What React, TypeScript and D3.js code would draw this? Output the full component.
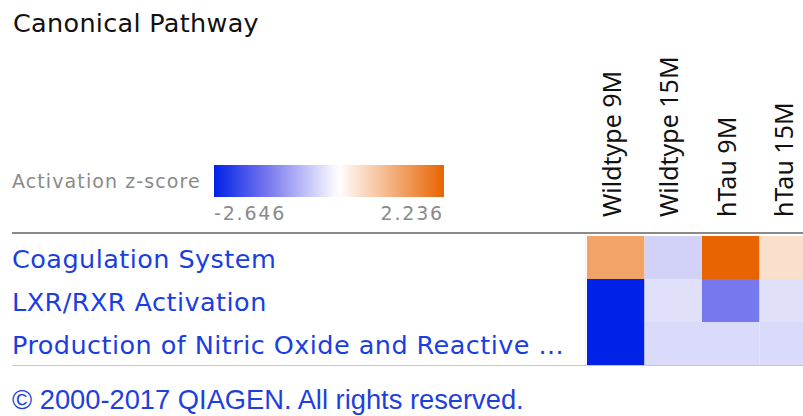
import React from "react";
import * as d3 from "d3";

const columns = ["Wildtype 9M", "Wildtype 15M", "hTau 9M", "hTau 15M"];
const pathways = [
  "Coagulation System",
  "LXR/RXR Activation",
  "Production of Nitric Oxide and Reactive ...",
];
const coagulation = [1.32, -0.5, 2.236, 0.45];
const lxrRxr = [-2.646, -0.34, -1.5, -0.34];
const nitricOxide = [-2.646, -0.41, -0.41, -0.41];
const zMin = -2.646;
const zMax = 2.236;
const legendTicks = ["-2.646", "2.236"];

const W = 803;
const H = 416;

export default function App() {
  const rows = [coagulation, lxrRxr, nitricOxide];
  const x = d3.scaleBand<string>().domain(columns).range([587, 817]).padding(0);
  const y = d3.scaleBand<string>().domain(pathways).range([236, 365]).padding(0);
  const color = d3
    .scaleLinear<string>()
    .domain([zMin, -1.5, 0, zMax])
    .range(["#0022e6", "#7878ee", "#ffffff", "#e86400"])
    .interpolate(d3.interpolateRgb);

  const lx = d3.scaleLinear().domain([zMin, zMax]).range([214, 444]);
  const stops = d3.range(0, 41).map((i) => {
    const t = i / 40;
    const v = zMin + t * (zMax - zMin);
    return { offset: t, c: color(v) };
  });

  return (
    <div style={{ position: "absolute", left: 0, top: 0 }}>
      <svg width={W} height={H} style={{ display: "block", background: "#fff" }}>
        <defs>
          <linearGradient id="zgrad" x1="0" x2="1" y1="0" y2="0">
            {stops.map((s, i) => (
              <stop key={i} offset={s.offset} stopColor={s.c} />
            ))}
          </linearGradient>
        </defs>
        <text x={13} y={32} fontFamily="DejaVu Sans" fontSize={25.5} letterSpacing={0.3} fill="#111">
          Canonical Pathway
        </text>

        <text
          x={12}
          y={188}
          fontFamily="DejaVu Sans"
          fontSize={19}
          letterSpacing={1.1}
          fill="#8a8a8a"
        >
          Activation z-score
        </text>
        <rect x={lx(zMin)} y={165} width={lx(zMax) - lx(zMin)} height={32} fill="url(#zgrad)" />
        <text
          x={lx(zMin)}
          y={220}
          fontFamily="DejaVu Sans"
          fontSize={19}
          letterSpacing={1.8}
          fill="#8a8a8a"
        >
          {legendTicks[0]}
        </text>
        <text
          x={lx(zMax)}
          y={220}
          fontFamily="DejaVu Sans"
          fontSize={19}
          letterSpacing={1.8}
          textAnchor="end"
          fill="#8a8a8a"
        >
          {legendTicks[1]}
        </text>

        {columns.map((c) => {
          const cx = (x(c) as number) + x.bandwidth() / 2 + 5;
          return (
            <text
              key={c}
              transform={`translate(${cx},217) rotate(-90)`}
              fontFamily="Noto Sans"
              fontSize={25}
              fill="#111"
            >
              {c}
            </text>
          );
        })}

        {rows.map((vals, ri) =>
          vals.map((v, ci) => (
            <rect
              key={`${ri}-${ci}`}
              x={x(columns[ci]) as number}
              y={y(pathways[ri]) as number}
              width={x.bandwidth()}
              height={y.bandwidth()}
              fill={color(v)}
            />
          ))
        )}

        {pathways.map((p) => (
          <text
            key={p}
            x={12}
            y={(y(p) as number) + y.bandwidth() / 2 + 10}
            fontFamily="DejaVu Sans"
            fontSize={25.5}
            letterSpacing={0.45}
            fill="#1a3ee0"
          >
            {p}
          </text>
        ))}

        <line x1={12} x2={W} y1={233} y2={233} stroke="#8a8a8a" strokeWidth={2} />
        <line x1={12} x2={W} y1={365.5} y2={365.5} stroke="#c8c8c8" strokeWidth={1} />
        <line x1={585.5} x2={585.5} y1={234} y2={365} stroke="#f0f0f0" strokeWidth={1} />

        <text x={12} y={409} fontFamily="Liberation Sans" fontSize={27.3} fill="#1f3fdd">
          © 2000-2017 QIAGEN. All rights reserved.
        </text>
      </svg>
    </div>
  );
}
